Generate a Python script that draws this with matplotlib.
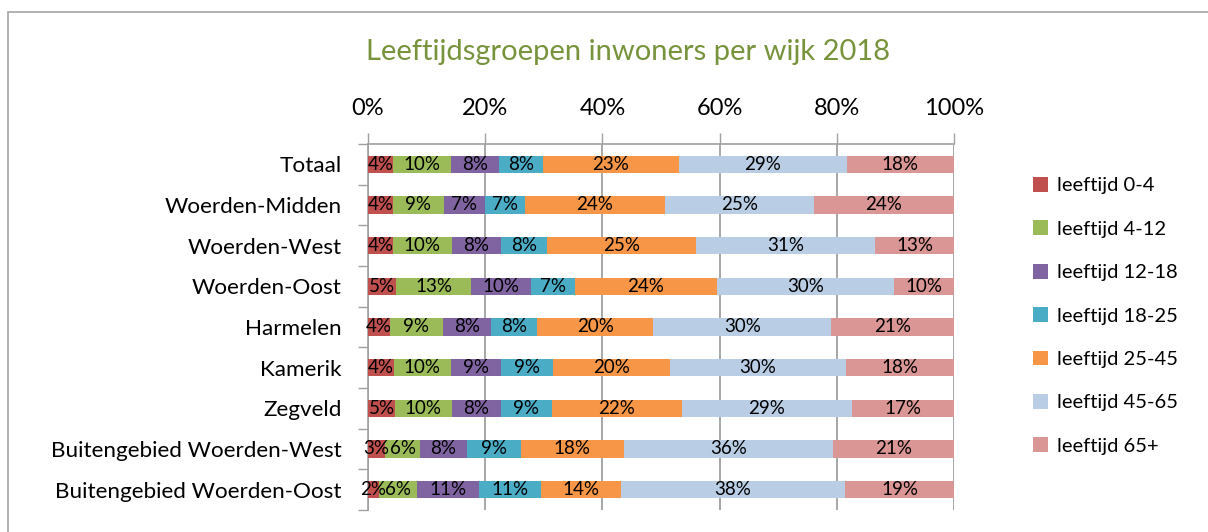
import matplotlib
matplotlib.use("Agg")
import matplotlib.pyplot as plt
from matplotlib.patches import Rectangle
import numpy as np

plt.rcParams['font.family'] = ['Lato', 'DejaVu Sans']

categories = ["Totaal", "Woerden-Midden", "Woerden-West", "Woerden-Oost", "Harmelen",
              "Kamerik", "Zegveld", "Buitengebied Woerden-West", "Buitengebied Woerden-Oost"]
series_names = ["leeftijd 0-4", "leeftijd 4-12", "leeftijd 12-18", "leeftijd 18-25",
                "leeftijd 25-45", "leeftijd 45-65", "leeftijd 65+"]
age_0_4   = [4.2, 4.2, 4.2, 4.85, 3.7, 4.4, 4.6, 2.9, 1.9]
age_4_12  = [9.9, 8.7, 10.1, 12.65, 9.1, 9.7, 9.7, 6.0, 6.4]
age_12_18 = [8.2, 7.0, 8.4, 10.4, 8.15, 8.55, 8.35, 8.0, 10.6]
age_18_25 = [7.5, 6.85, 7.9, 7.4, 7.9, 8.95, 8.75, 9.15, 10.6]
age_25_45 = [23.3, 23.9, 25.3, 24.2, 19.85, 19.9, 22.1, 17.65, 13.7]
age_45_65 = [28.6, 25.4, 30.7, 30.3, 30.3, 30.1, 29.1, 35.6, 38.2]
age_65p   = [18.3, 24.0, 13.4, 10.2, 21.0, 18.4, 17.4, 20.7, 18.6]
series = [age_0_4, age_4_12, age_12_18, age_18_25, age_25_45, age_45_65, age_65p]
colors = ["#C0504D", "#9BBB59", "#8064A2", "#4BACC6", "#F79646", "#B9CDE5", "#D99694"]
xticks = [0, 20, 40, 60, 80, 100]
xticklabels = ["0%", "20%", "40%", "60%", "80%", "100%"]

W, H = 1208, 532
fig = plt.figure(figsize=(W / 100, H / 100), dpi=100)
fig.patches.append(Rectangle((8 / W, -0.1), 1.2, 1 - 12 / H + 0.1, transform=fig.transFigure,
                             fill=False, edgecolor="#A6A6A6", linewidth=1.2))

ax = fig.add_axes([368 / W, 1 - 510 / H, (954 - 368) / W, (510 - 144) / H])
y = np.arange(len(categories))
left = np.zeros(len(categories))
handles = []
for vals, c, name in zip(series, colors, series_names):
    vals = np.array(vals)
    b = ax.barh(y, vals, left=left, height=0.42, color=c, label=name, zorder=3)
    handles.append(b)
    for yi, (l, v) in enumerate(zip(left, vals)):
        ax.text(l + v / 2, yi, f"{int(round(v))}%", ha="center", va="center",
                fontsize=13.5, color="black", zorder=4)
    left += vals

ax.set_xlim(0, 100)
ax.set_ylim(len(categories) - 0.5, -0.5)
ax.xaxis.tick_top()
ax.set_xticks(xticks)
ax.set_xticklabels(xticklabels, fontsize=17)
ax.tick_params(axis="x", which="major", length=8, width=1, color="#A0A0A0", pad=10)
ax.grid(axis="x", color="#A0A0A0", linewidth=1.3, zorder=0)
ax.set_yticks(y)
ax.set_yticklabels(categories, fontsize=16.2)
ax.set_yticks(np.arange(len(categories) + 1) - 0.5, minor=True)
ax.tick_params(axis="y", which="major", length=0, pad=19)
ax.tick_params(axis="y", which="minor", length=7, width=1, color="#A0A0A0")
for s in ["right", "bottom"]:
    ax.spines[s].set_visible(False)
for s in ["top", "left"]:
    ax.spines[s].set_color("#A0A0A0")
    ax.spines[s].set_linewidth(1.2)

fig.text(628 / W, 1 - 52 / H, "Leeftijdsgroepen inwoners per wijk 2018", ha="center", va="center",
         fontsize=21, color="#77933C")

fig.legend(handles=handles, loc="upper left", bbox_to_anchor=(1033 / W, 1 - 177 / H),
           frameon=False, fontsize=14.5, labelspacing=1.29, handlelength=0.75, handleheight=0.75,
           handletextpad=0.45, borderaxespad=0, borderpad=0)

fig.savefig("out.png", dpi=100)
